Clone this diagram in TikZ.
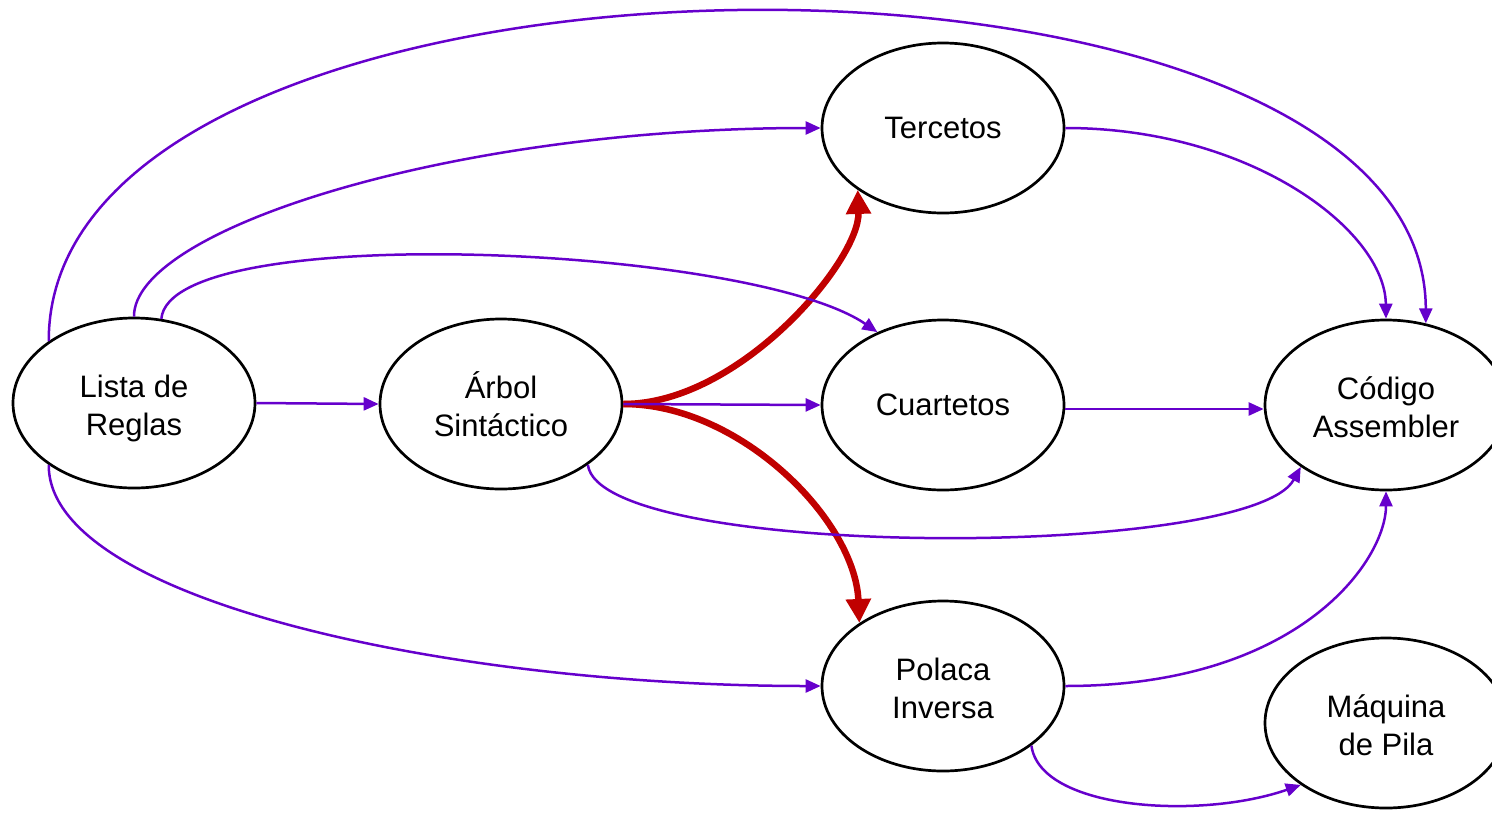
\documentclass[tikz,border=0pt]{standalone}
\usepackage{fontspec}
\setmainfont{Liberation Sans}
\usetikzlibrary{shapes.geometric,arrows.meta}
\definecolor{conn}{HTML}{6600CC}
\definecolor{hot}{HTML}{C00000}
\tikzset{
  el/.style={ellipse, draw=black, line width=2.7pt, fill=white, minimum width=242pt, minimum height=170pt, inner sep=0pt, align=center, font=\fontsize{31}{38}\selectfont},
  two/.style={text height=70pt, text depth=6pt},
  pl/.style={draw=conn, line width=2.5pt, -{Triangle[length=15pt,width=13pt]}},
  rd/.style={draw=hot, line width=6.5pt, -{Triangle[length=24pt,width=24pt]}}
}
\begin{document}
\begin{tikzpicture}[x=1pt,y=-1pt]
\clip (0,0) rectangle (1492,812);
\node[el,two] (lista) at (134,403) {Lista de\\Reglas};
\node[el,two] (arbol) at (501,404) {Árbol\\Sintáctico};
\node[el] (terc) at (943,128) {Tercetos};
\node[el] (cuar) at (943,405) {Cuartetos};
\node[el,two] (cod) at (1386,405) {Código\\Assembler};
\node[el,two] (pol) at (943,686) {Polaca\\Inversa};
\node[el,two] (maq) at (1386,723) {Máquina\\de Pila};
% red thick connectors
\draw[rd] (arbol.east) .. controls (740,404) and (860,260) .. (terc.216);
\draw[rd] (arbol.east) .. controls (740,404) and (855,520) .. (pol.143);
% purple connectors
\draw[pl] (lista.east) -- (arbol.west);
\draw[pl] (arbol.east) -- (cuar.west);
\draw[pl] ([yshift=-4pt]cuar.east) -- ([yshift=-4pt]cod.west);
\draw[pl] (lista.144) .. controls (48,-90) and (1425,-100) .. (cod.64);
\draw[pl] (lista.north) .. controls (133,230) and (450,128) .. (terc.west);
\draw[pl] (lista.72) .. controls (170,220) and (750,245) .. (cuar.132);
\draw[pl] (lista.216) .. controls (48,600) and (450,686) .. (pol.west);
\draw[pl] (arbol.-35) .. controls (600,560) and (1250,560) .. (cod.216);
\draw[pl] (terc.east) .. controls (1250,128) and (1385,230) .. (cod.north);
\draw[pl] (pol.east) .. controls (1300,686) and (1386,560) .. (cod.south);
\draw[pl] (pol.326) .. controls (1040,810) and (1200,820) .. (maq.216);
\end{tikzpicture}
\end{document}
